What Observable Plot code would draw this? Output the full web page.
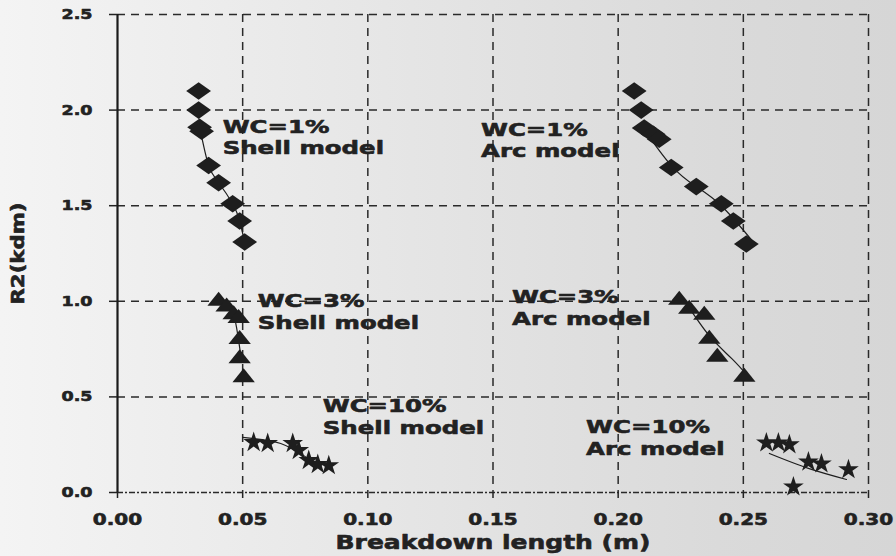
<!DOCTYPE html>
<html>
<head>
<meta charset="utf-8">
<script src="https://cdn.jsdelivr.net/npm/d3@7"></script>
<script src="https://cdn.jsdelivr.net/npm/@observablehq/plot@0.6"></script>
<style>
  html, body { margin: 0; padding: 0; width: 896px; height: 556px; overflow: hidden;
    background: linear-gradient(to right, #f4f4f4 0%, #ececec 25%, #e2e2e2 55%, #dadada 80%, #d6d6d6 100%); }
  #chart svg { display: block; }
</style>
</head>
<body>
<div id="chart"></div>
<script>
// ---- Tick values ----
const xTicks = [0, 0.05, 0.10, 0.15, 0.20, 0.25, 0.30];
const yTicks = [0, 0.5, 1.0, 1.5, 2.0, 2.5];

// ---- Measured points: breakdown length (m) vs R2 ----
const shell1X = [0.0324, 0.0324, 0.0328, 0.0336, 0.0364, 0.0404, 0.0460, 0.0488, 0.0508];
const shell1Y = [2.10, 2.00, 1.91, 1.89, 1.71, 1.62, 1.51, 1.42, 1.31];
const shell3X = [0.0404, 0.0436, 0.0464, 0.0484, 0.0488, 0.0488, 0.0504];
const shell3Y = [1.01, 0.98, 0.94, 0.92, 0.81, 0.71, 0.61];
const shell10X = [0.0544, 0.0600, 0.0700, 0.0724, 0.0764, 0.0800, 0.0844];
const shell10Y = [0.262, 0.257, 0.257, 0.220, 0.168, 0.147, 0.141];
const arc1X = [0.2064, 0.2092, 0.2104, 0.2140, 0.2164, 0.2212, 0.2312, 0.2412, 0.2460, 0.2512];
const arc1Y = [2.10, 2.00, 1.906, 1.874, 1.848, 1.70, 1.60, 1.51, 1.42, 1.30];
const arc3X = [0.2244, 0.2284, 0.2344, 0.2364, 0.2396, 0.2504];
const arc3Y = [1.016, 0.969, 0.937, 0.812, 0.717, 0.613];
const arc10X = [0.2592, 0.2640, 0.2684, 0.2760, 0.2812, 0.2920, 0.2700];
const arc10Y = [0.26, 0.26, 0.25, 0.16, 0.15, 0.12, 0.03];

// ---- Fitted model curves ----
const shell1FitX = [0.0330, 0.0364, 0.0404, 0.0460, 0.0488, 0.0508];
const shell1FitY = [1.90, 1.71, 1.62, 1.51, 1.42, 1.31];
const shell3FitX = [0.0404, 0.0452, 0.0476, 0.0490];
const shell3FitY = [1.01, 0.97, 0.86, 0.74];
const shell10FitX = [0.0500, 0.0652, 0.0772];
const shell10FitY = [0.288, 0.256, 0.168];
const arc1FitX = [0.2092, 0.2212, 0.2312, 0.2412, 0.2540];
const arc1FitY = [1.92, 1.71, 1.60, 1.50, 1.31];
const arc3FitX = [0.2264, 0.2364, 0.2454, 0.2524];
const arc3FitY = [1.005, 0.82, 0.70, 0.60];
const arc10FitX = [0.2604, 0.2760, 0.2912];
const arc10FitY = [0.204, 0.126, 0.068];

// ---- Annotations ----
const annoText = ["WC=1%\nShell model", "WC=3%\nShell model", "WC=10%\nShell model",
                  "WC=1%\nArc model", "WC=3%\nArc model", "WC=10%\nArc model"];
const annoX = [0.042, 0.056, 0.082, 0.1452, 0.1576, 0.1872];
const annoY = [1.963, 1.052, 0.503, 1.948, 1.073, 0.393];

const xLabel = "Breakdown length (m)";
const yLabel = "R2(kdm)";

const pts = (xs, ys) => xs.map((x, i) => ({x, y: ys[i]}));
const anno = annoText.map((t, i) => ({text: t, x: annoX[i], y: annoY[i]}));

const wideDiamond = {draw(ctx, size) {
  const s = Math.sqrt(size / Math.PI);
  ctx.moveTo(-1.55 * s, 0); ctx.lineTo(0, -1.1 * s); ctx.lineTo(1.55 * s, 0); ctx.lineTo(0, 1.1 * s); ctx.closePath();
}};
const flatTriangle = {draw(ctx, size) {
  const s = Math.sqrt(size / Math.PI);
  ctx.moveTo(0, -0.95 * s); ctx.lineTo(1.4 * s, 0.8 * s); ctx.lineTo(-1.4 * s, 0.8 * s); ctx.closePath();
}};

const ink = "#1e1e1e";
const lineOpts = {x: "x", y: "y", curve: "natural", stroke: ink, strokeWidth: 1.2};

const svg = Plot.plot({
  width: 896, height: 556,
  marginLeft: 117, marginRight: 28, marginTop: 14, marginBottom: 64,
  style: {fontFamily: "'DejaVu Sans', sans-serif", fontWeight: "bold", background: "transparent", color: "#222"},
  x: {domain: [0, 0.30]},
  y: {domain: [0, 2.5]},
  marks: [
    Plot.gridX(xTicks.slice(1), {stroke: "#2a2a2a", strokeOpacity: 1, strokeWidth: 1.5, strokeDasharray: "8,6"}),
    Plot.gridY(yTicks.slice(1), {stroke: "#2a2a2a", strokeOpacity: 1, strokeWidth: 1.5, strokeDasharray: "8,6"}),
    Plot.ruleY([0], {stroke: "#2a2a2a", strokeWidth: 1.5, strokeDasharray: "6,2,2,2"}),
    Plot.ruleX([0], {stroke: "#1a1a1a", strokeWidth: 2.2}),
    Plot.axisX({ticks: xTicks, tickFormat: d => d.toFixed(2), tickSize: 6, tickPadding: 15, fontSize: 16, label: null, strokeWidth: 1.5}),
    Plot.axisY({ticks: yTicks, tickFormat: d => d.toFixed(1), tickSize: 8, tickPadding: 17, fontSize: 14, label: null, strokeWidth: 1.5}),
    Plot.line(pts(shell1FitX, shell1FitY), lineOpts),
    Plot.line(pts(shell3FitX, shell3FitY), lineOpts),
    Plot.line(pts(shell10FitX, shell10FitY), lineOpts),
    Plot.line(pts(arc1FitX, arc1FitY), lineOpts),
    Plot.line(pts(arc3FitX, arc3FitY), lineOpts),
    Plot.line(pts(arc10FitX, arc10FitY), lineOpts),
    Plot.dot(pts(shell1X, shell1Y), {x: "x", y: "y", symbol: wideDiamond, r: 8, fill: ink}),
    Plot.dot(pts(arc1X, arc1Y), {x: "x", y: "y", symbol: wideDiamond, r: 8, fill: ink}),
    Plot.dot(pts(shell3X, shell3Y), {x: "x", y: "y", symbol: flatTriangle, r: 8, fill: ink}),
    Plot.dot(pts(arc3X, arc3Y), {x: "x", y: "y", symbol: flatTriangle, r: 8, fill: ink}),
    Plot.dot(pts(shell10X, shell10Y), {x: "x", y: "y", symbol: "star", r: 6.5, fill: ink}),
    Plot.dot(pts(arc10X, arc10Y), {x: "x", y: "y", symbol: "star", r: 6.5, fill: ink}),
    Plot.text(anno, {x: "x", y: "y", text: "text", textAnchor: "start", lineAnchor: "top", fontSize: 18.5, lineHeight: 1.18, fill: "#222"}),
    Plot.text([xLabel], {frameAnchor: "bottom", text: d => d, textAnchor: "middle", lineAnchor: "bottom", dy: 56, fontSize: 20, fill: "#222"}),
    Plot.text([yLabel], {frameAnchor: "left", text: d => d, textAnchor: "middle", rotate: -90, lineAnchor: "bottom", dx: -94, fontSize: 17, fill: "#222"})
  ]
});

// Widen glyphs horizontally (the original uses an extended, heavy bold face)
d3.select(svg).selectAll("text").each(function() {
  let t = this.getAttribute("transform");
  if (!t) {
    const x = this.getAttribute("x") || 0, y = this.getAttribute("y") || 0;
    this.removeAttribute("x"); this.removeAttribute("y");
    t = `translate(${x},${y})`;
  }
  const fsEl = this.closest("[font-size]");
  const fs = fsEl ? +fsEl.getAttribute("font-size") : 0;
  const sx = fs === 18.5 ? 1.32 : 1.25;
  this.setAttribute("transform", t + ` scale(${sx},1)`);
  this.setAttribute("stroke", "#222");
  this.setAttribute("stroke-width", "0.6");
  this.setAttribute("stroke-linejoin", "round");
});

document.getElementById("chart").appendChild(svg);
</script>
</body>
</html>
